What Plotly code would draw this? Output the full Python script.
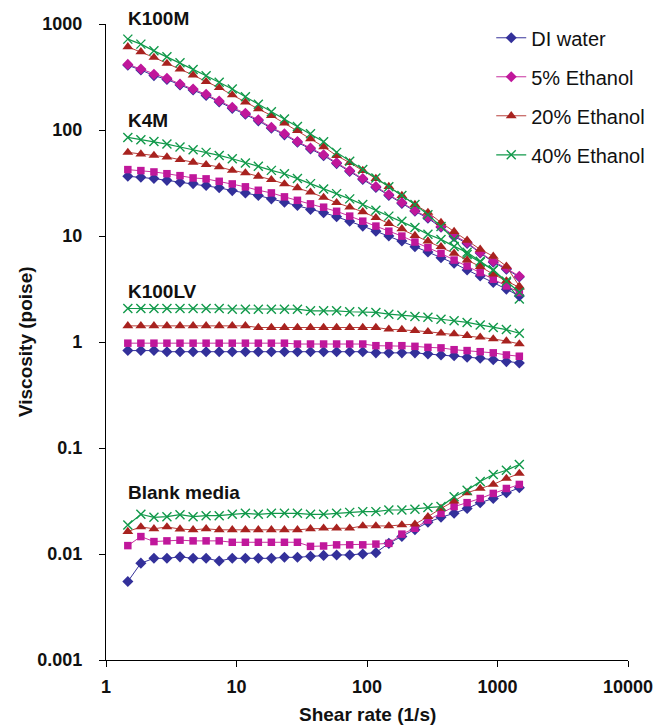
import plotly.graph_objects as go

# Shear rate (1/s)
x_shear = [1.47, 1.85, 2.33, 2.93, 3.69, 4.65, 5.85, 7.37, 9.28, 11.7, 14.7, 18.5, 23.3, 29.3, 36.9,
           46.5, 58.5, 73.7, 92.8, 117, 147, 185, 233, 293, 369, 465, 585, 737, 928, 1170, 1470]

# K100M
k100m_di = [408, 368, 326, 300, 266, 238, 212, 184, 160, 141, 122, 104, 90, 76.5, 66.2, 57.3, 48.2,
            40.6, 34.1, 28.7, 24.1, 20.3, 17.1, 14.7, 12.1, 9.9, 8.5, 6.9, 5.65, 4.86, 4.1]
k100m_5 = [416, 376, 335, 307, 272, 244, 217, 188, 164, 144, 125, 106, 92, 78, 67.6, 58.5, 49.2,
           41.4, 34.8, 29.3, 24.6, 20.7, 17.4, 15.0, 12.3, 10.1, 8.71, 7.01, 5.77, 4.96, 4.17]
k100m_20 = [609, 547, 484, 425, 376, 330, 286, 251, 214, 183, 158, 137, 116, 98.9, 82.6, 69.5, 57.3,
            49.2, 41.4, 34.8, 29.3, 24.1, 19.8, 16.7, 13.4, 11.0, 9.1, 7.48, 6.43, 5.18, 3.36]
k100m_40 = [720, 646, 558, 491, 431, 373, 325, 282, 244, 206, 175, 149, 127, 108, 92, 77.5, 61.5,
            50.6, 42.3, 35.3, 29.1, 24.1, 19.8, 15.9, 12.3, 9.3, 6.7, 5.65, 4.8, 3.62, 2.54]

# K4M
k4m_di = [36.6, 35.8, 34.8, 33.5, 32.1, 31.2, 29.9, 28.5, 26.8, 25.5, 24.1, 22.4, 20.8, 19.4, 17.8,
          16.6, 15.2, 13.8, 12.4, 11.1, 9.98, 8.96, 7.93, 7.06, 6.25, 5.53, 4.78, 4.20, 3.64, 3.15, 2.72]
k4m_5 = [42.3, 41.4, 40.2, 38.7, 37.1, 35.3, 34.6, 32.8, 31.0, 29.1, 27.0, 25.5, 23.4, 21.7, 20.1,
         18.7, 17.1, 15.4, 13.8, 12.4, 11.1, 9.98, 8.77, 7.76, 6.86, 5.93, 5.21, 4.52, 3.91, 3.38, 2.93]
k4m_20 = [61.5, 59.3, 57.6, 55.6, 52.5, 49.5, 47.1, 44.8, 41.6, 39.4, 36.6, 34.0, 31.0, 28.5, 25.9,
          23.1, 20.6, 18.7, 16.9, 14.9, 13.1, 11.7, 10.1, 8.96, 7.93, 6.86, 5.93, 5.15, 4.36, 3.77, 3.27]
k4m_40 = [85.1, 81.0, 78.0, 73.7, 69.1, 65.1, 61.5, 57.6, 53.6, 48.9, 45.4, 41.6, 38.7, 34.8, 31.2,
          27.8, 25.1, 22.4, 19.8, 17.5, 15.4, 13.8, 12.0, 10.4, 9.29, 7.98, 7.01, 5.77, 4.75, 3.74, 2.95]

# K100LV
k100lv_di = [0.83, 0.83, 0.83, 0.81, 0.81, 0.81, 0.81, 0.81, 0.81, 0.81, 0.81, 0.81, 0.81, 0.81, 0.81,
             0.81, 0.81, 0.81, 0.81, 0.79, 0.79, 0.79, 0.79, 0.77, 0.755, 0.743, 0.718, 0.703, 0.68, 0.653, 0.635]
k100lv_5 = [0.975, 0.975, 0.975, 0.975, 0.975, 0.975, 0.975, 0.975, 0.975, 0.975, 0.975, 0.975, 0.975,
            0.957, 0.957, 0.957, 0.957, 0.957, 0.957, 0.923, 0.923, 0.923, 0.91, 0.89, 0.88, 0.846, 0.83,
            0.81, 0.79, 0.755, 0.734]
k100lv_20 = [1.42, 1.42, 1.42, 1.42, 1.42, 1.42, 1.42, 1.42, 1.42, 1.42, 1.37, 1.37, 1.37, 1.37, 1.37,
             1.37, 1.37, 1.37, 1.37, 1.37, 1.32, 1.31, 1.28, 1.25, 1.21, 1.19, 1.15, 1.11, 1.07, 1.02, 0.96]
k100lv_40 = [2.07, 2.07, 2.07, 2.07, 2.07, 2.07, 2.07, 2.07, 2.04, 2.04, 2.04, 2.04, 2.04, 2.04, 1.97,
             1.97, 1.97, 1.93, 1.93, 1.90, 1.83, 1.79, 1.74, 1.71, 1.64, 1.59, 1.53, 1.45, 1.37, 1.31, 1.21]

# Blank media
blank_di = [0.0055, 0.0082, 0.0091, 0.0091, 0.0094, 0.0091, 0.0091, 0.0086, 0.0091, 0.0091, 0.0091,
            0.0091, 0.0093, 0.0093, 0.0095, 0.0097, 0.0098, 0.0098, 0.0100, 0.0103, 0.0126, 0.0146,
            0.0169, 0.0199, 0.0222, 0.0242, 0.0269, 0.0305, 0.0334, 0.0378, 0.0422]
blank_5 = [0.0120, 0.0146, 0.0131, 0.0133, 0.0135, 0.0133, 0.0133, 0.0133, 0.0129, 0.0129, 0.0129,
           0.0129, 0.0129, 0.0129, 0.0118, 0.0119, 0.0122, 0.0122, 0.0122, 0.0124, 0.0126, 0.0154,
           0.0175, 0.0209, 0.0242, 0.0280, 0.0305, 0.0334, 0.0373, 0.0415, 0.0453]
blank_20 = [0.0163, 0.0180, 0.0173, 0.0180, 0.0172, 0.0169, 0.0173, 0.0169, 0.0169, 0.0169, 0.0169,
            0.0169, 0.0169, 0.0169, 0.0173, 0.0175, 0.0175, 0.0175, 0.0184, 0.0184, 0.0184, 0.0188,
            0.0191, 0.0225, 0.0269, 0.0315, 0.0378, 0.0415, 0.0453, 0.0516, 0.0575]
blank_40 = [0.0188, 0.0237, 0.0222, 0.0225, 0.0235, 0.0225, 0.0230, 0.0230, 0.0237, 0.0242, 0.0237,
            0.0242, 0.0242, 0.0242, 0.0237, 0.0237, 0.0242, 0.0247, 0.0251, 0.0251, 0.0260, 0.0260,
            0.0265, 0.0274, 0.0280, 0.0347, 0.0400, 0.0484, 0.0562, 0.0617, 0.0699]

series_names = ["DI water", "5% Ethanol", "20% Ethanol", "40% Ethanol"]
groups = [
    ("K100M", [k100m_di, k100m_5, k100m_20, k100m_40]),
    ("K4M", [k4m_di, k4m_5, k4m_20, k4m_40]),
    ("K100LV", [k100lv_di, k100lv_5, k100lv_20, k100lv_40]),
    ("Blank media", [blank_di, blank_5, blank_20, blank_40]),
]
x_ticks = [1, 10, 100, 1000, 10000]
y_ticks = [0.001, 0.01, 0.1, 1, 10, 100, 1000]
y_ticklabels = ["0.001", "0.01", "0.1", "1", "10", "100", "1000"]

styles = {
    "DI water": dict(line=dict(color="#37339a", width=1),
                     marker=dict(symbol="diamond", size=8.5, color="#33309a")),
    "5% Ethanol": dict(line=dict(color="#c8309e", width=1),
                       marker=dict(symbol="square", size=7.5, color="#c0179b")),
    "20% Ethanol": dict(line=dict(color="#b8403c", width=1),
                        marker=dict(symbol="triangle-up", size=9.5, color="#a8221f")),
    "40% Ethanol": dict(line=dict(color="#11994a", width=1.2),
                        marker=dict(symbol="x-thin", size=9, color="#11994a",
                                    line=dict(color="#11994a", width=1.4))),
}

FONT = "Liberation Sans"
TXT = "#111111"
fig = go.Figure()
shown = set()
for gname, vals in groups:
    for name, y in zip(series_names, vals):
        st = styles[name]
        marker = dict(st["marker"])
        if gname == "K100M" and name == "5% Ethanol":
            marker = dict(marker, symbol="diamond", size=8.5)
        fig.add_trace(go.Scatter(
            x=x_shear, y=y, mode="lines+markers", name=name,
            legendgroup=name, showlegend=name not in shown,
            line=st["line"], marker=marker,
        ))
        shown.add(name)

# group labels (paper coordinates)
labels = [("K100M", 1.0094), ("K4M", 0.849), ("K100LV", 0.580), ("Blank media", 0.2626)]
for txt, py in labels:
    fig.add_annotation(x=0.039, y=py, xref="paper", yref="paper", text="<b>%s</b>" % txt,
                       showarrow=False, xanchor="left", yanchor="middle",
                       font=dict(family=FONT, size=19, color=TXT))

# axis titles as annotations
fig.add_annotation(x=0.5, y=-0.085, xref="paper", yref="paper", text="<b>Shear rate (1/s)</b>",
                   showarrow=False, xanchor="center", yanchor="middle",
                   font=dict(family=FONT, size=19, color=TXT))
fig.add_annotation(x=-0.155, y=0.5, xref="paper", yref="paper", text="<b>Viscosity (poise)</b>",
                   showarrow=False, xanchor="center", yanchor="middle", textangle=-90,
                   font=dict(family=FONT, size=19, color=TXT))

fig.update_layout(
    width=665, height=725,
    margin=dict(l=106, r=37, t=24, b=65, autoexpand=False),
    paper_bgcolor="white", plot_bgcolor="white",
    showlegend=True,
    legend=dict(x=0.738, y=1.009, xanchor="left", yanchor="top",
                font=dict(family=FONT, size=20, color=TXT),
                tracegroupgap=10, bgcolor="rgba(0,0,0,0)"),
    font=dict(family=FONT, color=TXT),
)
fig.update_xaxes(type="log", range=[0, 4], showgrid=False, zeroline=False, automargin=False,
                 showline=True, linecolor="black", linewidth=1.2,
                 ticks="outside", ticklen=6, tickcolor="black", ticklabelstandoff=4,
                 tickvals=x_ticks, ticktext=[str(v) for v in x_ticks],
                 tickfont=dict(family=FONT, size=18, color=TXT, weight="bold"))
fig.update_yaxes(type="log", range=[-3, 3], showgrid=False, zeroline=False, automargin=False,
                 showline=True, linecolor="black", linewidth=1.2,
                 ticks="outside", ticklen=6, tickcolor="black", ticklabelstandoff=13,
                 tickvals=y_ticks, ticktext=y_ticklabels,
                 tickfont=dict(family=FONT, size=18, color=TXT, weight="bold"))

fig.write_html("out.html", config={"displayModeBar": False},
               post_script="document.body.style.margin='0';document.body.style.overflow='hidden';")
